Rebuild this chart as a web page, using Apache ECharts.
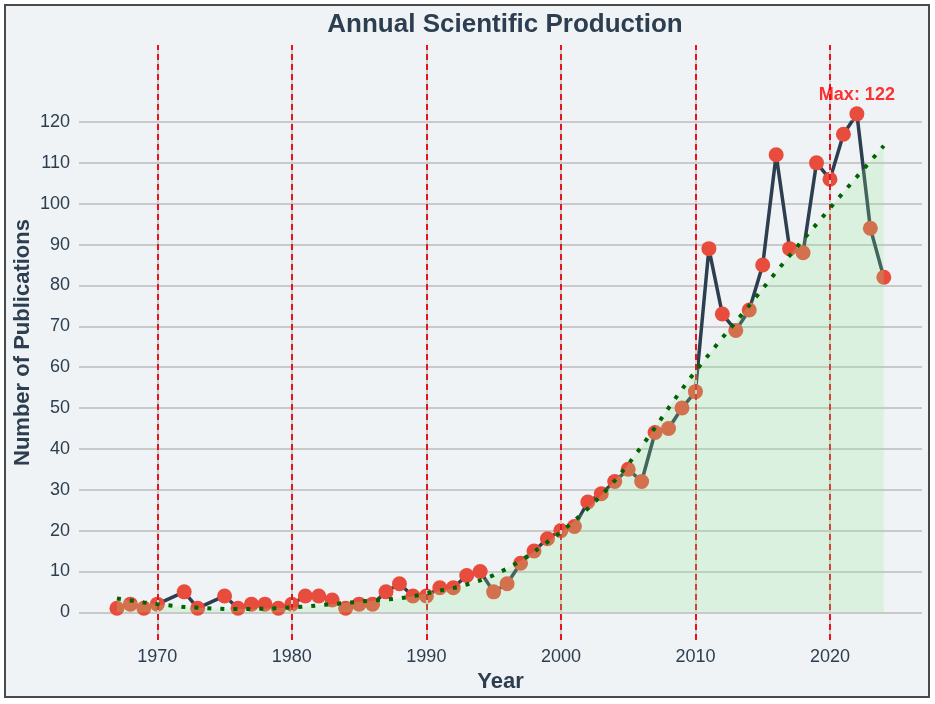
<!DOCTYPE html>
<html lang="en">
<head>
    <meta charset="UTF-8">
    <title>Annual Scientific Production</title>
    <script src="https://cdn.jsdelivr.net/npm/echarts@6/dist/echarts.min.js"></script>
    <style>
        html, body { margin: 0; padding: 0; background: #fff; }
        #frame {
            position: absolute; left: 4px; top: 4px; width: 926px; height: 694px;
            box-sizing: border-box; border: 2px solid #4a4a4a; background: #eff3f5;
        }
        #main { position: absolute; left: 0; top: 0; width: 935px; height: 704px; }
    </style>
</head>
<body>
<div id="frame"></div>
<div id="main"></div>
<script>
    // publications per year (1971 and 1974 have none)
    let years = [1967, 1968, 1969, 1970, 1972, 1973, 1975, 1976, 1977, 1978, 1979, 1980,
        1981, 1982, 1983, 1984, 1985, 1986, 1987, 1988, 1989, 1990, 1991, 1992, 1993, 1994,
        1995, 1996, 1997, 1998, 1999, 2000, 2001, 2002, 2003, 2004, 2005, 2006, 2007, 2008,
        2009, 2010, 2011, 2012, 2013, 2014, 2015, 2016, 2017, 2018, 2019, 2020, 2021, 2022,
        2023, 2024];
    let counts = [1, 2, 1, 2, 5, 1, 4, 1, 2, 2, 1, 2,
        4, 4, 3, 1, 2, 2, 5, 7, 4, 4, 6, 6, 9, 10,
        5, 7, 12, 15, 18, 20, 21, 27, 29, 32, 35, 32, 44, 45,
        50, 54, 89, 73, 69, 74, 85, 112, 89, 88, 110, 106, 117, 122,
        94, 82];
    // fitted trend
    let trend = [3.4, 2.9, 2.4, 2.0, 1.3, 1.1, 0.8, 0.8, 0.8, 0.9, 1.0, 1.2,
        1.4, 1.7, 2.0, 2.3, 2.6, 2.9, 3.1, 3.4, 3.9, 4.6, 5.3, 5.9, 6.8, 7.8,
        9.1, 10.7, 12.6, 14.8, 17.2, 19.6, 22.4, 25.4, 28.6, 32.2, 36.2, 40.6, 45.2, 50.0,
        54.6, 59.0, 63.1, 67.2, 71.1, 75.1, 79.2, 83.3, 87.3, 91.2, 95.0, 98.9, 102.8, 106.6,
        110.4, 114.2];
    let decades = [1970, 1980, 1990, 2000, 2010, 2020];

    let xMin = 1964.18, xMax = 2026.84;
    let textColor = '#2c3e50';
    let font = 'Liberation Sans, Arial, sans-serif';

    let maxVal = Math.max(...counts);
    let maxYear = years[counts.indexOf(maxVal)];

    let chart = echarts.init(document.getElementById('main'));

    let option = {
        backgroundColor: 'transparent',
        title: {
            text: 'Annual Scientific Production',
            left: 500,
            textAlign: 'center',
            top: 7,
            textStyle: { color: textColor, fontWeight: 'bold', fontSize: 26, fontFamily: font }
        },
        grid: [
            { left: 79, right: 13, top: 122, bottom: 91.7 },
            { left: 79, right: 13, top: 45, bottom: 64 }
        ],
        xAxis: [
            {
                type: 'value', gridIndex: 0, min: xMin, max: xMax,
                axisLine: { show: false }, axisTick: { show: false },
                axisLabel: { show: false }, splitLine: { show: false }
            },
            {
                type: 'value', gridIndex: 1, min: xMin, max: xMax,
                name: 'Year', nameLocation: 'middle', nameGap: 30,
                nameTextStyle: { color: textColor, fontWeight: 'bold', fontSize: 22, fontFamily: font },
                axisLine: { show: false }, axisTick: { show: false },
                splitLine: { show: false },
                axisLabel: {
                    color: textColor, fontSize: 18, fontFamily: font, margin: 8,
                    formatter: v => (v % 10 === 0 ? String(v) : '')
                }
            }
        ],
        yAxis: [
            {
                type: 'value', gridIndex: 0, min: 0, max: 120, interval: 10,
                axisLine: { show: false }, axisTick: { show: false },
                axisLabel: { color: textColor, fontSize: 18, fontFamily: font, margin: 9 },
                splitLine: { lineStyle: { color: '#c9c9c9', width: 2 } }
            },
            {
                type: 'value', gridIndex: 1, min: 0, max: 1,
                name: 'Number of Publications', nameLocation: 'middle', nameGap: 45,
                nameTextStyle: { color: textColor, fontWeight: 'bold', fontSize: 22, fontFamily: font },
                axisLine: { show: false }, axisTick: { show: false },
                axisLabel: { show: false }, splitLine: { show: false }
            }
        ],
        series: [
            {
                // decade guides
                type: 'line', xAxisIndex: 1, yAxisIndex: 1, data: [], z: 1,
                markLine: {
                    silent: true, symbol: 'none', label: { show: false },
                    lineStyle: { color: '#d0d0d0', width: 2, type: 'solid' },
                    data: decades.map(d => ({ xAxis: d }))
                }
            },
            {
                type: 'line', xAxisIndex: 1, yAxisIndex: 1, data: [], z: 1,
                markLine: {
                    silent: true, symbol: 'none', label: { show: false },
                    lineStyle: { color: '#e8141c', width: 2, type: [6, 4] },
                    data: decades.map(d => ({ xAxis: d }))
                }
            },
            {
                name: 'Publications',
                type: 'line', xAxisIndex: 0, yAxisIndex: 0, z: 2,
                data: years.map((y, i) => [y, counts[i]]),
                clip: false,
                symbol: 'circle', symbolSize: 15,
                lineStyle: { color: '#2c3e50', width: 3.5 },
                itemStyle: { color: '#e74c3c' }
            },
            {
                name: 'Trend',
                type: 'line', xAxisIndex: 0, yAxisIndex: 0, z: 5,
                data: years.map((y, i) => [y, trend[i]]),
                clip: false,
                showSymbol: false, symbol: 'none',
                lineStyle: { color: '#006400', width: 4, type: [4, 9], cap: 'butt' },
                areaStyle: { color: 'rgba(144, 238, 144, 0.32)', origin: 'start' }
            },
            {
                // label for the peak year
                type: 'scatter', xAxisIndex: 0, yAxisIndex: 0, z: 6,
                data: [[maxYear, maxVal]],
                clip: false,
                symbolSize: 1, itemStyle: { color: 'rgba(0,0,0,0)' },
                label: {
                    show: true, position: 'top', distance: 9,
                    formatter: p => 'Max: ' + p.value[1],
                    color: '#ff0000', fontWeight: 'bold', fontSize: 18, fontFamily: font
                }
            }
        ]
    };

    chart.setOption(option);
</script>
</body>
</html>
